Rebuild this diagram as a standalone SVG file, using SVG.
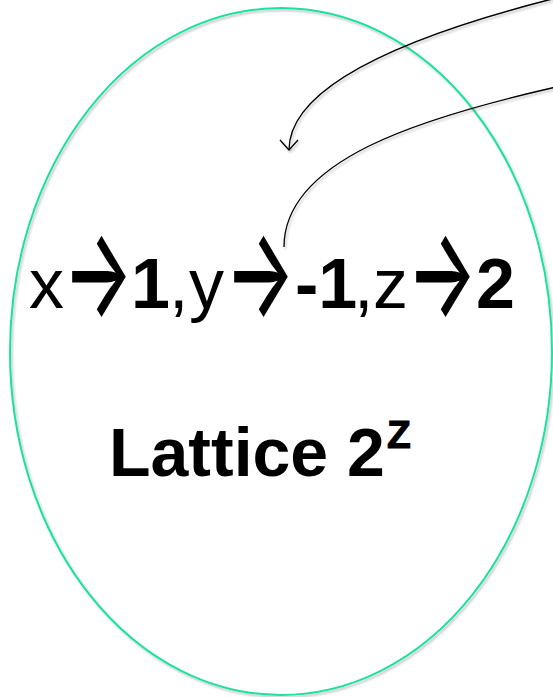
<svg xmlns="http://www.w3.org/2000/svg" width="553" height="697" viewBox="0 0 553 697">
<defs>
<style>
.ell{fill:none;stroke:#1ee0a2;stroke-width:2}
.conn{fill:none;stroke:#000;stroke-width:1.3}
.t{font-family:"Liberation Sans",Arial,sans-serif;fill:#000}
.b{font-weight:bold}
.ar{font-family:Inter,"DejaVu Sans",sans-serif;font-weight:500;font-size:124px}
.sup{font-family:"Liberation Sans",Arial,sans-serif;font-weight:bold;font-size:39px;stroke:#000;stroke-width:1}
</style>
<filter id="sh" x="-10%" y="-10%" width="120%" height="120%">
<feDropShadow dx="1.5" dy="2" stdDeviation="1.2" flood-color="#000" flood-opacity="0.25"/>
</filter>
<marker id="open" markerWidth="24" markerHeight="24" refX="12" refY="12" orient="auto" markerUnits="userSpaceOnUse">
<path d="M2,3 L12,12 L2,21" fill="none" stroke="#000" stroke-width="1.3"/>
</marker>
</defs>
<rect width="553" height="697" fill="#fff"/>
<g id="lattice">
<ellipse class="ell" cx="281" cy="351.5" rx="271" ry="343.5" filter="url(#sh)"/>
<text class="t" font-size="70" y="308"><tspan x="29">x</tspan><tspan class="ar" x="63" y="316" textLength="70" lengthAdjust="spacingAndGlyphs">→</tspan><tspan class="b" x="131" y="308">1</tspan><tspan x="169">,</tspan><tspan x="189">y</tspan><tspan class="ar" x="225" y="316" textLength="70" lengthAdjust="spacingAndGlyphs">→</tspan><tspan class="b" x="295" y="308">-1</tspan><tspan x="354">,</tspan><tspan x="373">z</tspan><tspan class="ar" x="407" y="316" textLength="70" lengthAdjust="spacingAndGlyphs">→</tspan><tspan class="b" x="476" y="308">2</tspan></text>
<text class="t b" font-size="68" x="109" y="476">Lattice 2</text>
<text class="sup" x="387" y="448">Z</text>
</g>
<g id="connectors" filter="url(#sh)">
<path class="conn" d="M556,-2 C430,30 289,80 289,150" marker-end="url(#open)"/>
<path class="conn" d="M556,87 C420,118 284,160 284,247"/>
</g>
</svg>
